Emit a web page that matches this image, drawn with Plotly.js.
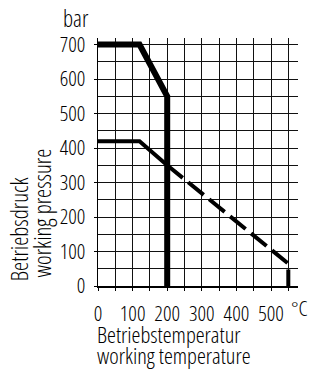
<!DOCTYPE html>
<html>
<head>
<meta charset="utf-8">
<script src="https://cdn.plot.ly/plotly-3.0.1.min.js"></script>
<style>
html,body{margin:0;padding:0;background:#fff;}
#chart{width:310px;height:371px;}
text{font-stretch:75%;}
</style>
</head>
<body>
<div id="chart"></div>
<script>
// Data
const tempHigh = [0, 120, 200, 200];
const pressHigh = [700, 700, 550, 0];
const tempLowSolid = [0, 120, 200];
const pressLowSolid = [420, 420, 350];
const tempLowDash = [200, 550, 550];
const pressLowDash = [350, 65, 0];
const xTickVals = [0, 100, 200, 300, 400, 500];
const yTickVals = [0, 100, 200, 300, 400, 500, 600, 700];

const FAM = '"Open Sans", "DejaVu Sans Condensed", sans-serif';
const F = {family: FAM, size: 21, color: '#000', weight: 300};
const FT = {family: FAM, size: 23, color: '#000', weight: 300};
const FX = {family: FAM, size: 22.5, color: '#000', weight: 300};

const traces = [
  {x: tempHigh, y: pressHigh, mode: 'lines', line: {color: '#000', width: 6}, hoverinfo: 'skip'},
  {x: tempLowSolid, y: pressLowSolid, mode: 'lines', line: {color: '#000', width: 4}, hoverinfo: 'skip'},
  {x: tempLowDash, y: pressLowDash, mode: 'lines', line: {color: '#000', width: 4, dash: '20px,7px'}, hoverinfo: 'skip'}
];

const ann = (text, x, y, xa, ya, extra) => Object.assign({text, xref: 'paper', yref: 'paper', x, y, xanchor: xa, yanchor: ya, showarrow: false, font: FT}, extra || {});

const layout = {
  width: 310, height: 371,
  margin: {l: 98, r: 12, t: 38, b: 85},
  paper_bgcolor: '#fff', plot_bgcolor: '#fff',
  showlegend: false,
  font: F,
  xaxis: {
    range: [0, 578], tickvals: xTickVals, tickangle: 0, showgrid: true, gridcolor: '#111', gridwidth: 1,
    minor: {dtick: 50, showgrid: true, gridcolor: '#111', gridwidth: 1, ticks: 'outside', ticklen: 3, tickcolor: '#000'},
    ticks: 'outside', ticklen: 3, tickcolor: '#000', ticklabelstandoff: 5,
    showline: true, linecolor: '#000', linewidth: 1.5, zeroline: false,
    tickfont: F
  },
  yaxis: {
    range: [0, 719], tickvals: yTickVals, showgrid: true, gridcolor: '#111', gridwidth: 1,
    minor: {dtick: 50, showgrid: true, gridcolor: '#111', gridwidth: 1},
    ticks: 'outside', ticklen: 3, tickcolor: '#000', ticklabelstandoff: 4,
    showline: true, linecolor: '#000', linewidth: 1.5, zeroline: false,
    tickfont: F
  },
  annotations: [
    ann('bar', -0.1125, 1.081, 'center', 'middle'),
    ann('°C', 1.06, -0.089, 'right', 'middle', {font: F}),
    ann('Betriebstemperatur', -0.015, -0.125, 'left', 'top', {font: FX}),
    ann('working temperature', -0.015, -0.2097, 'left', 'top', {font: FX}),
    ann('Betriebsdruck', -0.394, 0.012, 'center', 'bottom', {textangle: -90}),
    ann('working pressure', -0.28, 0.028, 'center', 'bottom', {textangle: -90})
  ]
};

Plotly.newPlot('chart', traces, layout, {staticPlot: true, displayModeBar: false});
</script>
</body>
</html>
